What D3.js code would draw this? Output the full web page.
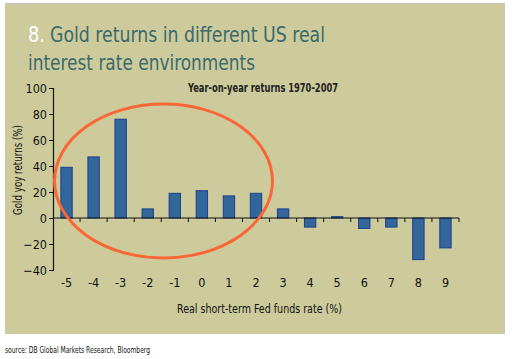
<!DOCTYPE html>
<html><head><meta charset="utf-8">
<script src="https://cdn.jsdelivr.net/npm/d3@7"></script>
<style>html,body{margin:0;padding:0;background:#fff;}svg{display:block;}</style>
</head><body>
<svg id="c" width="512" height="359"></svg>
<script>
const categories = ["-5","-4","-3","-2","-1","0","1","2","3","4","5","6","7","8","9"];
const returns = [39, 47, 76, 7, 19, 21, 17, 19, 7, -7, 1, -8, -7, -32, -23];
const yTicks = [100, 80, 60, 40, 20, 0, -20, -40];
const titleLine1 = "Gold returns in different US real";
const titleLine2 = "interest rate environments";

const svg = d3.select("#c");
const font = "'DejaVu Sans Condensed','Liberation Sans Narrow',Arial,sans-serif";

svg.append("rect").attr("x",5).attr("y",4).attr("width",499).attr("height",330).attr("fill","#cdcb9b");
svg.append("line").attr("x1",5).attr("x2",505).attr("y1",3.5).attr("y2",3.5).attr("stroke","#c4c4c4");
svg.append("line").attr("x1",504.5).attr("x2",504.5).attr("y1",3).attr("y2",334).attr("stroke","#c4c4c4");

function fit(sel, len){ return sel.attr("textLength",len).attr("lengthAdjust","spacingAndGlyphs"); }

fit(svg.append("text").attr("x",28).attr("y",42).attr("font-family",font).attr("font-size",22).attr("fill","#ffffff").text("8."), 17);
fit(svg.append("text").attr("x",50).attr("y",42).attr("font-family",font).attr("font-size",22).attr("fill","#3b6a6c").text(titleLine1), 275);
fit(svg.append("text").attr("x",28).attr("y",70).attr("font-family",font).attr("font-size",22).attr("fill","#3b6a6c").text(titleLine2), 227);

const x = d3.scaleBand().domain(categories).range([53,459]).paddingInner(0.58).paddingOuter(0.29);
const y = d3.scaleLinear().domain([-40,100]).range([270,88]);

fit(svg.append("text").attr("x",188).attr("y",92).attr("font-family",font)
  .attr("font-size",12).attr("font-weight","bold").attr("fill","#222").text("Year-on-year returns 1970-2007"), 150);

// y axis
const ya = svg.append("g").attr("transform","translate(53,0)")
  .call(d3.axisLeft(y).tickValues(yTicks).tickSize(4).tickPadding(2));
ya.select(".domain").attr("stroke","#111").attr("stroke-width",1.2);
ya.selectAll(".tick line").attr("stroke","#111");
ya.selectAll("text").attr("font-family",font).attr("font-size",12.5).attr("fill","#111");

fit(svg.append("text").attr("transform","translate(22,170) rotate(-90)").attr("text-anchor","middle")
  .attr("font-family",font).attr("font-size",12.5).attr("fill","#111").text("Gold yoy returns (%)"), 90);

// bars
svg.append("g").selectAll("rect").data(returns).join("rect")
  .attr("x",(d,i)=>x(categories[i]))
  .attr("width",x.bandwidth())
  .attr("y",d=>y(Math.max(0,d)))
  .attr("height",d=>Math.abs(y(d)-y(0)))
  .attr("fill","#336699").attr("stroke","#1d3f8e").attr("stroke-width",1);

// x axis baseline with boundary ticks
const bounds = d3.range(categories.length+1).map(i=>x.range()[0] + i*(x.range()[1]-x.range()[0])/categories.length);
const xg = svg.append("g");
xg.append("line").attr("x1",53).attr("x2",459).attr("y1",y(0)).attr("y2",y(0)).attr("stroke","#111").attr("stroke-width",1.2);
xg.selectAll("line.tk").data(bounds.slice(1)).join("line").attr("class","tk")
  .attr("x1",d=>d).attr("x2",d=>d).attr("y1",y(0)).attr("y2",y(0)+4).attr("stroke","#111");

// x tick labels at bottom
svg.append("g").selectAll("text").data(categories).join("text")
  .attr("x",d=>x(d)+x.bandwidth()/2).attr("y",287).attr("text-anchor","middle")
  .attr("font-family",font).attr("font-size",12.5).attr("fill","#111").text(d=>d);

fit(svg.append("text").attr("x",177).attr("y",313)
  .attr("font-family",font).attr("font-size",13).attr("fill","#111").text("Real short-term Fed funds rate (%)"), 165);

// annotation ellipse
svg.append("ellipse").attr("cx",163.5).attr("cy",181).attr("rx",109).attr("ry",77)
  .attr("fill","none").attr("stroke","#fb6636").attr("stroke-width",3);

fit(svg.append("text").attr("x",5).attr("y",353).attr("font-family",font).attr("font-size",8)
  .attr("fill","#111").text("source: DB Global Markets Research, Bloomberg"), 145);
</script>
</body></html>
